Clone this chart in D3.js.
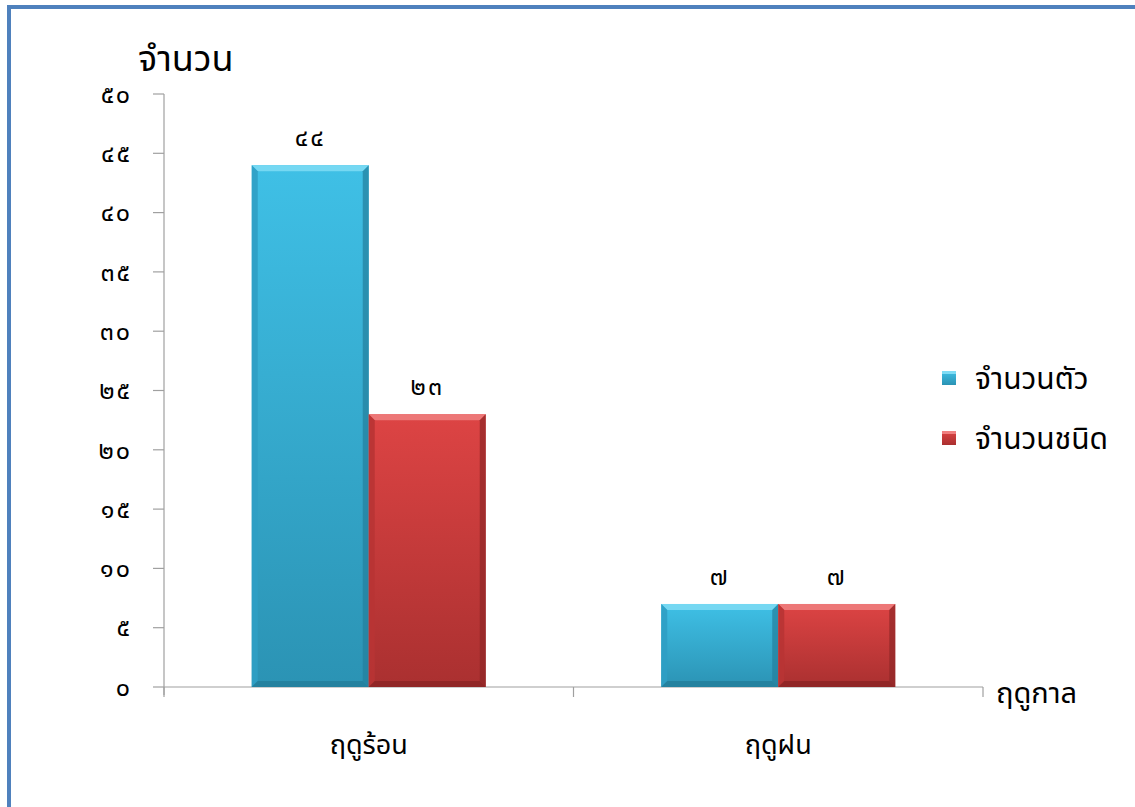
<!DOCTYPE html>
<html><head><meta charset="utf-8">
<script src="https://cdn.jsdelivr.net/npm/d3@7"></script>
<style>
html,body{margin:0;padding:0;background:#fff;}
svg{display:block;}
text{font-family:"Noto Sans Thai","Noto Sans","Tahoma",sans-serif;fill:#000;}
</style></head>
<body>
<svg id="c" width="1135" height="807"></svg>
<script>
const categories = ["ฤดูร้อน", "ฤดูฝน"];
const seriesNames = ["จำนวนตัว", "จำนวนชนิด"];
const countValues = [44, 7];
const speciesValues = [23, 7];
const yTicks = [0, 5, 10, 15, 20, 25, 30, 35, 40, 45, 50];
const thaiDigits = ["๐","๑","๒","๓","๔","๕","๖","๗","๘","๙"];
const toThai = n => String(n).split("").map(d => thaiDigits[+d]).join("");

(function(){
const svg = d3.select("#c");
const W = 1135, H = 807;
svg.append("rect").attr("width", W).attr("height", H).attr("fill", "#fff");
svg.append("rect").attr("x", 9).attr("y", 7).attr("width", W + 20).attr("height", H + 20)
  .attr("fill", "none").attr("stroke", "#4f81bd").attr("stroke-width", 4);

const pl = 164, pr = 983, pt = 94, pb = 687;
const y = d3.scaleLinear().domain([0, 50]).range([pb, pt]);
const x0 = d3.scaleBand().domain(categories).range([pl, pr]).paddingInner(0).paddingOuter(0);
const gw = 234;
const x1 = d3.scaleBand().domain(seriesNames).range([0, gw]).padding(0);

const defs = svg.append("defs");
const pal = {
  "จำนวนตัว": {top:"#3fc0e6", bot:"#2b93b4", light:"#7fdcf5", dark:"#237f9c", side:"#2f9fc4"},
  "จำนวนชนิด": {top:"#dd4444", bot:"#aa3030", light:"#f08080", dark:"#8e2626", side:"#b83434"}
};
seriesNames.forEach((s, i) => {
  const g = defs.append("linearGradient").attr("id", "g" + i).attr("x1", 0).attr("y1", 0).attr("x2", 0).attr("y2", 1);
  g.append("stop").attr("offset", "0%").attr("stop-color", pal[s].top);
  g.append("stop").attr("offset", "100%").attr("stop-color", pal[s].bot);
});

const data = [];
categories.forEach((c, ci) => {
  [countValues[ci], speciesValues[ci]].forEach((v, si) => data.push({c, s: seriesNames[si], si, v}));
});

const digitSize = 25;
const axisG = svg.append("g");
axisG.append("line").attr("x1", pl).attr("x2", pl).attr("y1", pt).attr("y2", pb + 8)
  .attr("stroke", "#a0a0a0").attr("stroke-width", 1.2);
axisG.selectAll(".yt").data(yTicks).join("line")
  .attr("x1", pl - 11).attr("x2", pl).attr("y1", d => y(d)).attr("y2", d => y(d))
  .attr("stroke", "#a0a0a0").attr("stroke-width", 1.2);
axisG.selectAll(".yl").data(yTicks).join("text")
  .attr("x", 132).attr("y", d => y(d)).attr("dy", "0.35em").attr("text-anchor", "end")
  .attr("font-size", digitSize).attr("letter-spacing", 2).text(d => toThai(d));

const bw = x1.bandwidth();
const bev = 6;
const bars = svg.append("g");
data.forEach(d => {
  const bx = x0(d.c) + (x0.bandwidth() - gw) / 2 + x1(d.s);
  const by = y(d.v), bh = pb - by;
  const p = pal[d.s];
  const g = bars.append("g");
  g.append("rect").attr("x", bx).attr("y", by).attr("width", bw).attr("height", bh).attr("fill", `url(#g${d.si})`);
  g.append("polygon").attr("points", [[bx,by],[bx+bw,by],[bx+bw-bev,by+bev],[bx+bev,by+bev]].join(" ")).attr("fill", p.light).attr("opacity", 0.85);
  g.append("polygon").attr("points", [[bx,by],[bx+bev,by+bev],[bx+bev,by+bh-bev],[bx,by+bh]].join(" ")).attr("fill", p.side).attr("opacity", 0.9);
  g.append("polygon").attr("points", [[bx+bw,by],[bx+bw,by+bh],[bx+bw-bev,by+bh-bev],[bx+bw-bev,by+bev]].join(" ")).attr("fill", p.dark).attr("opacity", 0.7);
  g.append("polygon").attr("points", [[bx,by+bh],[bx+bw,by+bh],[bx+bw-bev,by+bh-bev],[bx+bev,by+bh-bev]].join(" ")).attr("fill", p.dark).attr("opacity", 0.9);
  svg.append("text").attr("x", bx + bw / 2).attr("y", by - 28).attr("dy", "0.35em")
    .attr("text-anchor", "middle").attr("font-size", digitSize).attr("letter-spacing", 2).text(toThai(d.v));
});

axisG.append("line").attr("x1", pl).attr("x2", pr).attr("y1", pb).attr("y2", pb)
  .attr("stroke", "#a0a0a0").attr("stroke-width", 1.2);
const xt = [pl, ...categories.map(c => x0(c) + x0.bandwidth())];
axisG.selectAll(".xt").data(xt).join("line")
  .attr("x1", d => d).attr("x2", d => d).attr("y1", pb).attr("y2", pb + 10)
  .attr("stroke", "#a0a0a0").attr("stroke-width", 1.2);
axisG.selectAll(".xl").data(categories).join("text")
  .attr("x", d => x0(d) + x0.bandwidth() / 2).attr("y", 745).attr("dy", "0.35em")
  .attr("text-anchor", "middle").attr("font-size", 27).text(d => d);

svg.append("text").attr("x", 138).attr("y", 58).attr("dy", "0.35em").attr("font-size", 36).text("จำนวน");
svg.append("text").attr("x", 996).attr("y", 693).attr("dy", "0.35em").attr("font-size", 29).text("ฤดูกาล");

const leg = svg.append("g");
seriesNames.forEach((s, i) => {
  const ly = 378 + i * 60;
  const p = pal[s];
  leg.append("rect").attr("x", 942).attr("y", ly - 7).attr("width", 14).attr("height", 14).attr("fill", `url(#g${i})`);
  leg.append("rect").attr("x", 942).attr("y", ly - 7).attr("width", 14).attr("height", 3).attr("fill", p.light);
  leg.append("text").attr("x", 975).attr("y", ly).attr("dy", "0.35em").attr("font-size", 30).text(s);
});
})();
</script>
</body></html>
